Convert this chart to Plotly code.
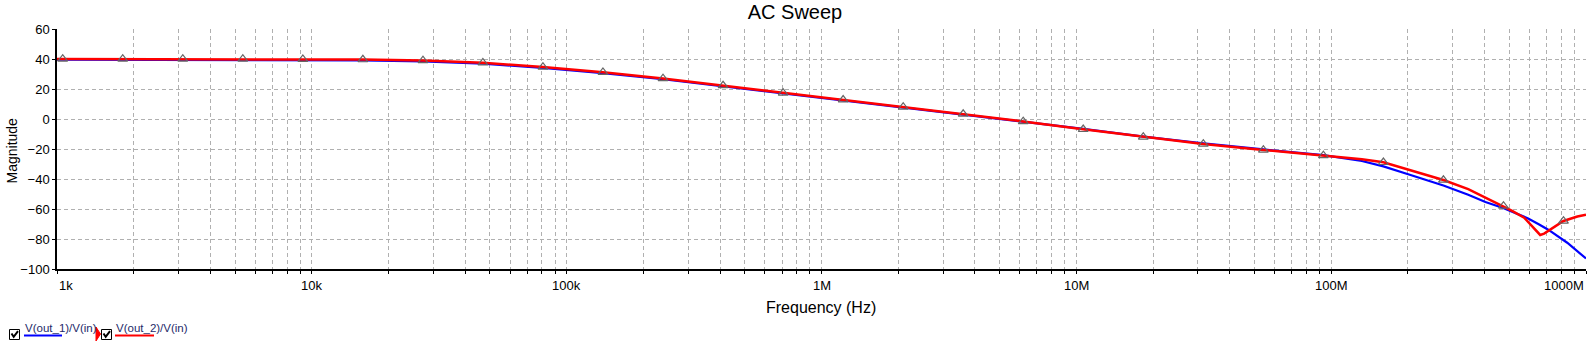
import math
import plotly.graph_objects as go

# ---------------- data ----------------
marker_freq = [1.053e3, 1.811e3, 3.116e3, 5.36e3, 9.22e3, 15.86e3, 27.3e3, 46.9e3,
               80.7e3, 138.8e3, 238.8e3, 410.9e3, 707e3, 1.216e6, 2.092e6, 3.597e6,
               6.188e6, 10.64e6, 18.31e6, 31.5e6, 54.2e6, 93.2e6, 160.3e6, 275.7e6,
               474.4e6, 816e6]
red_at_markers = [40.0, 40.0, 40.0, 40.0, 39.9, 39.6, 39.0, 37.5,
                  34.7, 31.2, 27.0, 22.3, 17.4, 12.8, 8.0, 3.3,
                  -1.6, -6.9, -12.0, -16.6, -20.6, -24.3, -28.9, -40.7,
                  -58.0, -68.0]
red_extra_freq = [1e3, 132e6, 202e6, 345e6, 403e6, 513e6, 572e6, 620e6, 661e6,
                  685e6, 711e6, 771e6, 925e6, 1e9]
red_extra_vals = [40.0, -26.9, -33.8, -46.7, -52.3, -61.3, -65.8, -72.0, -77.3,
                  -76.4, -74.6, -70.2, -65.0, -63.8]

blue_freq = [1e3, 1.811e3, 3.116e3, 5.36e3, 9.22e3, 15.86e3, 27.3e3, 46.9e3,
             80.7e3, 138.8e3, 238.8e3, 410.9e3, 707e3, 1.216e6, 2.092e6, 3.597e6,
             6.188e6, 10.64e6, 18.31e6, 31.5e6, 54.2e6, 93.2e6, 132e6, 160.3e6,
             202e6, 275.7e6, 345e6, 403e6, 473e6, 523e6, 593e6, 655e6, 711e6,
             844e6, 1e9]
blue_vals = [39.5, 39.5, 39.5, 39.5, 39.4, 39.0, 38.4, 36.9,
             34.1, 30.6, 26.5, 21.8, 16.9, 12.4, 7.6, 2.9,
             -1.8, -6.6, -11.7, -16.3, -20.3, -24.1, -28.0, -31.6,
             -37.0, -44.3, -50.5, -55.3, -59.3, -62.3, -66.3, -70.3, -73.8,
             -82.5, -93.0]

x_tick_vals = [1e3, 1e4, 1e5, 1e6, 1e7, 1e8, 1e9]
x_tick_text = ["1k", "10k", "100k", "1M", "10M", "100M", "1000M"]
y_tick_vals = [60, 40, 20, 0, -20, -40, -60, -80, -100]

series_names = ["V(out_1)/V(in)", "V(out_2)/V(in)"]
series_colors = ["#0000ff", "#ff0000"]

# red line = marker samples + extra samples, sorted by frequency
red_pts = sorted(zip(marker_freq + red_extra_freq, red_at_markers + red_extra_vals))
red_freq = [p[0] for p in red_pts]
red_vals = [p[1] for p in red_pts]

FONT = "Liberation Sans, Arial, sans-serif"
GRID = "#b0b0b0"
DASH = "4px,3px"
W, H = 1590, 353
PL, PT, PW, PH = 57, 29, 1529, 240


def px(x):
    return (x - PL) / PW


def py(y):
    return (PT + PH - y) / PH


minor_vals = [m * 10 ** e for e in range(3, 9) for m in range(2, 10)]

fig = go.Figure()
fig.add_trace(go.Scatter(x=blue_freq, y=blue_vals, mode="lines",
                         line=dict(color=series_colors[0], width=2.2),
                         name=series_names[0], hoverinfo="skip"))
fig.add_trace(go.Scatter(x=red_freq, y=red_vals, mode="lines",
                         line=dict(color=series_colors[1], width=2.5),
                         name=series_names[1], hoverinfo="skip"))
fig.add_trace(go.Scatter(x=marker_freq, y=red_at_markers, mode="markers",
                         marker=dict(symbol="triangle-up-open", size=8.5,
                                     color="#666666", line=dict(width=1.2, color="#666666")),
                         hoverinfo="skip", showlegend=False))

fig.update_layout(
    width=W, height=H,
    margin=dict(l=PL, r=W - PL - PW, t=PT, b=H - PT - PH, pad=0),
    paper_bgcolor="white", plot_bgcolor="white",
    showlegend=False,
    font=dict(family=FONT, size=13, color="black"),
    title=dict(text="AC Sweep", x=0.5, xanchor="center", xref="container",
               y=1 - 12 / H, yanchor="middle", yref="container",
               font=dict(size=20, family=FONT, color="black")),
)

fig.update_xaxes(
    type="log", range=[3, 9],
    tickmode="array", tickvals=x_tick_vals, showticklabels=False,
    ticks="outside", ticklen=3, tickcolor="black", tickwidth=1,
    showline=True, linecolor="black", linewidth=1.5,
    showgrid=True, gridcolor=GRID, griddash=DASH, gridwidth=1,
    minor=dict(tickmode="array", tickvals=minor_vals, ticks="outside", ticklen=3,
               tickcolor="black", showgrid=True, gridcolor=GRID,
               griddash=DASH, gridwidth=1),
    zeroline=False,
)
fig.update_yaxes(
    range=[-100, 60], tickmode="array", tickvals=y_tick_vals,
    ticks="outside", ticklen=3, tickcolor="black", tickwidth=1,
    showline=True, linecolor="black", linewidth=1.5,
    showgrid=True, gridcolor=GRID, griddash=DASH, gridwidth=1,
    tickfont=dict(size=13, family=FONT, color="black"),
    zeroline=False,
)

ann = []
# x tick labels (ends kept inside the canvas)
for i, (v, t) in enumerate(zip(x_tick_vals, x_tick_text)):
    anchor = "left" if i == 0 else ("right" if i == len(x_tick_vals) - 1 else "center")
    ann.append(dict(x=math.log10(v), y=py(285.5), xref="x", yref="paper", text=t,
                    showarrow=False, xanchor=anchor, yanchor="middle",
                    font=dict(size=13, family=FONT, color="black")))
# axis titles
ann.append(dict(x=px(821), y=py(307.5), xref="paper", yref="paper", text="Frequency (Hz)",
                showarrow=False, xanchor="center", yanchor="middle",
                font=dict(size=16, family=FONT, color="black")))
ann.append(dict(x=px(11.5), y=py(151), xref="paper", yref="paper", text="Magnitude",
                showarrow=False, xanchor="center", yanchor="middle", textangle=-90,
                font=dict(size=14, family=FONT, color="black")))

shapes = []
# custom legend
legend_items = [(9.5, 22.5, 24, 62), (101.5, 113.5, 115, 154)]
for i, (bx, tx, ux0, ux1) in enumerate(legend_items):
    shapes.append(dict(type="rect", xref="paper", yref="paper",
                       x0=px(bx), x1=px(bx + 10), y0=py(329.5), y1=py(339.5),
                       line=dict(color="black", width=1), fillcolor="white"))
    shapes.append(dict(type="path", xref="paper", yref="paper",
                       path=f"M {px(bx+2)} {py(333.5)} L {px(bx+4.2)} {py(336.8)} L {px(bx+8.5)} {py(331.2)}",
                       line=dict(color="black", width=2)))
    shapes.append(dict(type="line", xref="paper", yref="paper",
                       x0=px(ux0), x1=px(ux1), y0=py(335.5), y1=py(335.5),
                       line=dict(color=series_colors[i], width=2)))
    ann.append(dict(x=px(tx), y=py(327.5), xref="paper", yref="paper", text=series_names[i],
                    showarrow=False, xanchor="left", yanchor="middle",
                    font=dict(size=11.5, family=FONT, color="#1e2a6a")))
# red marker symbol in legend
shapes.append(dict(type="path", xref="paper", yref="paper",
                   path=f"M {px(96)} {py(327)} L {px(100.5)} {py(334)} L {px(96)} {py(341)} Z",
                   line=dict(color="red", width=1), fillcolor="red"))

fig.update_layout(annotations=ann, shapes=shapes)

fig.write_html("out.html")
